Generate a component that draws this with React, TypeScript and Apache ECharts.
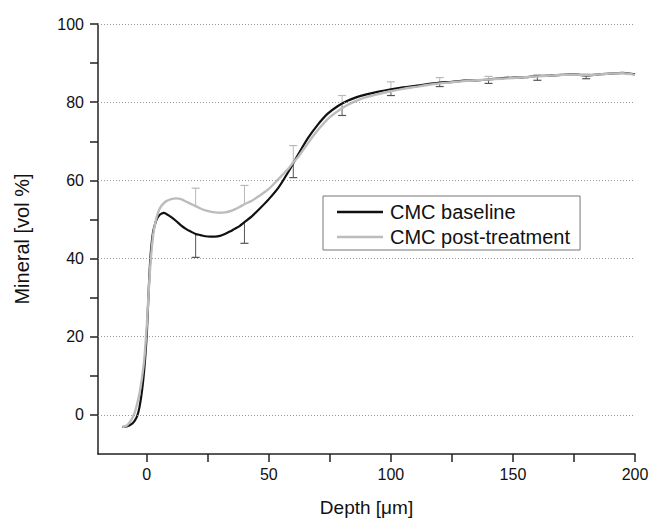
import React, { useEffect, useRef } from "react";
import * as echarts from "echarts";

const baselineDepth = [-10, -8, -6, -5, -4, -3, -2, -1, 0, 0.5, 1, 1.5, 2, 2.5, 3, 4, 5, 6, 7, 8, 10, 12, 14, 16, 18, 20, 22, 24, 26, 28, 30, 32, 34, 36, 38, 40, 43, 46, 50, 54, 58, 60, 62, 66, 70, 74, 78, 82, 86, 90, 95, 100, 105, 110, 115, 120, 125, 130, 135, 140, 145, 150, 155, 160, 165, 170, 175, 180, 185, 190, 195, 200];
const baselineValues = [-3.1, -2.9, -2.2, -1.5, -0.4, 2.0, 6.0, 12.0, 21.0, 28.0, 35.0, 40.5, 44.0, 46.5, 48.0, 50.0, 51.0, 51.5, 51.7, 51.4, 50.6, 49.6, 48.5, 47.6, 46.9, 46.3, 46.0, 45.7, 45.6, 45.6, 45.8, 46.3, 46.9, 47.6, 48.3, 49.3, 50.8, 52.6, 55.2, 58.2, 62.2, 64.4, 66.6, 70.8, 74.2, 77.0, 78.9, 80.3, 81.3, 82.0, 82.7, 83.3, 83.8, 84.2, 84.6, 85.0, 85.2, 85.5, 85.6, 85.8, 86.1, 86.3, 86.4, 86.7, 86.8, 87.0, 87.2, 86.8, 87.1, 87.3, 87.5, 87.1];

const postDepth = [-10, -8, -6, -5, -4, -3, -2, -1, 0, 0.5, 1, 1.5, 2, 2.5, 3, 4, 5, 6, 7, 8, 10, 12, 14, 16, 18, 20, 22, 24, 26, 28, 30, 32, 34, 36, 38, 40, 43, 46, 50, 54, 58, 60, 62, 66, 70, 74, 78, 82, 86, 90, 95, 100, 105, 110, 115, 120, 125, 130, 135, 140, 145, 150, 155, 160, 165, 170, 175, 180, 185, 190, 195, 200];
const postValues = [-3.1, -2.6, -0.9, 0.5, 2.8, 5.5, 9.4, 14.5, 23.0, 28.5, 34.0, 38.8, 42.5, 45.5, 47.6, 50.5, 52.4, 53.5, 54.2, 54.7, 55.2, 55.4, 55.2, 54.6, 54.0, 53.4, 52.8, 52.3, 52.0, 51.8, 51.7, 51.8, 52.1, 52.6, 53.2, 53.9, 54.8, 56.0, 57.8, 60.4, 63.0, 64.6, 66.0, 69.5, 72.8, 75.6, 77.6, 79.2, 80.4, 81.3, 82.1, 82.8, 83.4, 83.9, 84.4, 84.8, 85.1, 85.4, 85.6, 85.8, 86.0, 86.2, 86.4, 86.6, 86.8, 87.0, 87.1, 86.9, 87.1, 87.3, 87.4, 87.0];

const errDepth = [20, 40, 60, 80, 100, 120, 140, 160, 180];
const baselineMean = [46.3, 49.3, 64.4, 79.2, 83.3, 85.0, 85.8, 86.7, 86.8];
const baselineLower = [40.3, 43.9, 60.7, 76.6, 81.7, 84.0, 84.8, 85.6, 86.0];
const postMean = [53.4, 53.9, 64.6, 78.2, 82.8, 84.8, 85.8, 86.6, 86.9];
const postUpper = [58.0, 58.7, 68.9, 81.7, 85.2, 86.3, 86.6, 87.0, 87.2];

const xTickValues = [0, 25, 50, 75, 100, 125, 150, 175, 200];
const xLabelValues = [0, 50, 100, 150, 200];
const yTickValues = [0, 10, 20, 30, 40, 50, 60, 70, 80, 90, 100];
const yLabelValues = [0, 20, 40, 60, 80, 100];
const gridValues = [0, 20, 40, 60, 80, 100];

const seriesNames = ["CMC baseline", "CMC post-treatment"];
const FONT = "'Liberation Sans', Arial, sans-serif";

function errorBarRenderer(color: string) {
  return (params: any, api: any) => {
    const x = api.value(0);
    const from = api.coord([x, api.value(1)]);
    const to = api.coord([x, api.value(2)]);
    const half = 4;
    return {
      type: "group",
      children: [
        { type: "line", shape: { x1: from[0], y1: from[1], x2: to[0], y2: to[1] }, style: { stroke: color, lineWidth: 1 } },
        { type: "line", shape: { x1: to[0] - half, y1: to[1], x2: to[0] + half, y2: to[1] }, style: { stroke: color, lineWidth: 1.2 } },
      ],
    };
  };
}

export default function App() {
  const ref = useRef<HTMLDivElement>(null);
  useEffect(() => {
    if (!ref.current) return;
    const chart = echarts.init(ref.current, null, { renderer: "svg" });
    const baseData = baselineDepth.map((d, i) => [d, baselineValues[i]]);
    const postData = postDepth.map((d, i) => [d, postValues[i]]);
    const baseErr = errDepth.map((d, i) => [d, baselineMean[i], baselineLower[i]]);
    const postErr = errDepth.map((d, i) => [d, postMean[i], postUpper[i]]);
    chart.setOption({
      animation: false,
      backgroundColor: "#ffffff",
      textStyle: { fontFamily: FONT },
      grid: { left: 98, right: 16, top: 24, bottom: 65, outerBoundsMode: "none" },
      legend: {
        data: seriesNames.map((n) => ({ name: n, icon: "rect" })),
        orient: "vertical",
        left: 323,
        top: 196,
        padding: [6, 10, 3, 14],
        itemGap: 5,
        itemWidth: 46,
        itemHeight: 2.4,
        backgroundColor: "#ffffff",
        borderColor: "#777777",
        borderWidth: 1,
        borderRadius: 0,
        textStyle: { fontFamily: FONT, fontSize: 20, color: "#111111", padding: [0, 0, 0, 2] },
      },
      xAxis: {
        type: "value",
        min: -20,
        max: 200,
        name: "Depth [μm]",
        nameLocation: "middle",
        nameGap: 44,
        nameTextStyle: { fontFamily: FONT, fontSize: 19, color: "#111111" },
        axisLine: { onZero: false, lineStyle: { color: "#222", width: 1.5 } },
        axisTick: { show: true, length: 8, customValues: xTickValues, lineStyle: { color: "#222", width: 1.5 } },
        axisLabel: { customValues: xLabelValues, fontFamily: FONT, fontSize: 16, color: "#111111", margin: 12 },
        splitLine: { show: false },
      },
      yAxis: {
        type: "value",
        min: -10,
        max: 100,
        interval: 10,
        name: "Mineral [vol %]",
        nameLocation: "middle",
        nameGap: 66,
        nameRotate: 90,
        nameTextStyle: { fontFamily: FONT, fontSize: 20, color: "#111111" },
        axisLine: { onZero: false, lineStyle: { color: "#222", width: 1.5 } },
        axisTick: { show: true, length: 8, customValues: yTickValues, lineStyle: { color: "#222", width: 1.5 } },
        axisLabel: { customValues: yLabelValues, fontFamily: FONT, fontSize: 16, color: "#111111", margin: 14 },
        splitLine: { show: false },
      },
      series: [
        {
          name: "gridlines",
          type: "line",
          data: [],
          silent: true,
          markLine: {
            silent: true,
            symbol: "none",
            label: { show: false },
            lineStyle: { color: "#999999", width: 1, type: [1, 2] },
            data: gridValues.map((v) => ({ yAxis: v })),
          },
        },
        {
          name: "baseline error",
          type: "custom",
          renderItem: errorBarRenderer("#555555"),
          data: baseErr,
          z: 1,
        },
        {
          name: "post error",
          type: "custom",
          renderItem: errorBarRenderer("#b8b8b8"),
          data: postErr,
          z: 1,
        },
        {
          name: seriesNames[0],
          type: "line",
          data: baseData,
          showSymbol: false,
          symbol: "none",
          smooth: 0.3,
          lineStyle: { color: "#111111", width: 2.2 },
          itemStyle: { color: "#111111" },
          z: 3,
        },
        {
          name: seriesNames[1],
          type: "line",
          data: postData,
          showSymbol: false,
          symbol: "none",
          smooth: 0.3,
          lineStyle: { color: "#bcbcbc", width: 2.4 },
          itemStyle: { color: "#bcbcbc" },
          z: 4,
        },
      ],
    });
    return () => chart.dispose();
  }, []);
  return (
    <div
      ref={ref}
      style={{ position: "fixed", left: 0, top: 0, width: 651, height: 519, background: "#fff" }}
    />
  );
}
